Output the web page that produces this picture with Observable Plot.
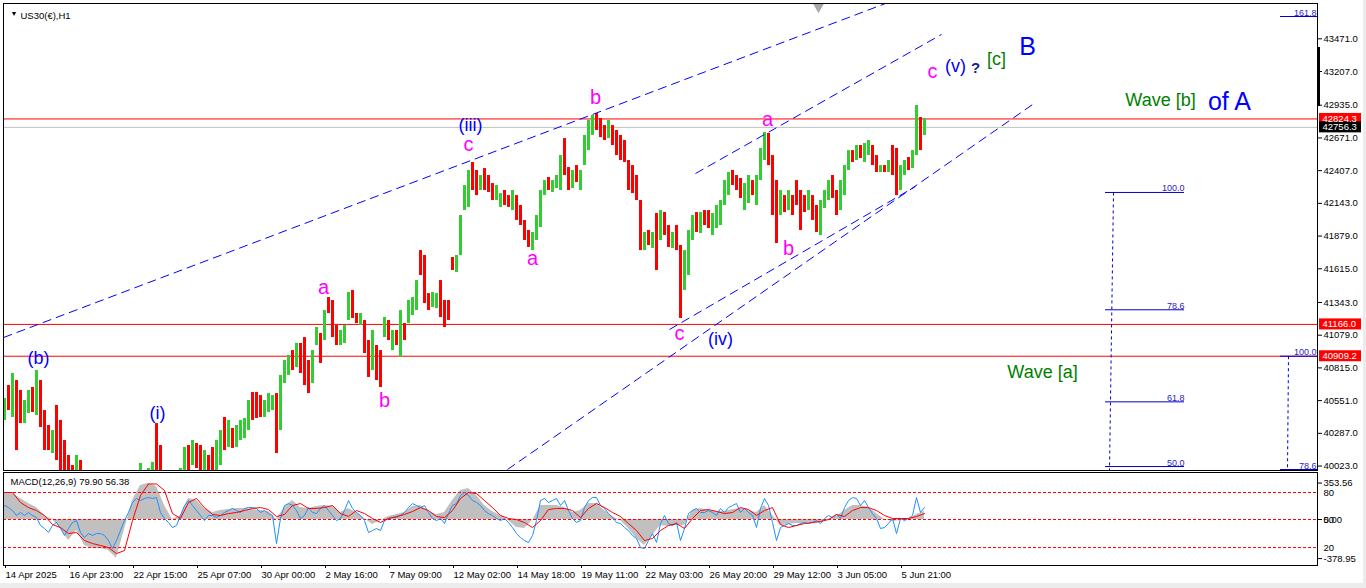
<!DOCTYPE html>
<html><head><meta charset="utf-8">
<script src="https://cdn.jsdelivr.net/npm/d3@7"></script>
<script src="https://cdn.jsdelivr.net/npm/@observablehq/plot@0.6"></script>
<style>
html,body{margin:0;padding:0;background:#ececec;overflow:hidden}
#chart svg{display:block}
</style></head><body><div id="chart"></div>
<script>
// ---------------- DATA ----------------
const symbolTitle = "US30(€),H1";
const macdTitle = "MACD(12,26,9) 79.90 56.38";
// price bars, one every 4 H1 bars (hour index from the left edge)
const barFirstHour = 1, barStepHours = 4;
const barHigh = [
40568,40673,40770,40713,40633,40552,40633,40657,40794,40713,
40471,40350,40310,40512,40391,40229,40108,40027,40108,40068,
39987,39947,39906,39866,39826,39785,39745,39705,39664,39745,
39826,39906,39947,39971,40044,39987,40003,40052,40366,40189,
39987,39947,39923,39947,40003,40173,40189,40229,40205,40189,
40148,40108,40173,40229,40310,40415,40391,40326,40350,40391,
40407,40552,40617,40617,40592,40552,40608,40592,40608,40754,
40875,40915,40955,41012,41012,41060,40875,40955,41141,41093,
41278,41383,41359,41157,41117,41157,41424,41440,41254,41254,
41198,41036,41117,40996,40955,41222,41198,41117,41117,41278,
41173,41359,41383,41520,41762,41722,41415,41424,41415,41520,
41359,41359,41706,41722,42045,42287,42408,42473,42408,42368,
42424,42368,42303,42287,42222,42247,42206,42247,42206,42126,
42005,41924,41908,42045,42247,42327,42352,42327,42368,42529,
42666,42432,42408,42448,42408,42691,42812,42852,42868,42828,
42771,42812,42771,42731,42691,42650,42489,42448,42368,42166,
41908,41924,41908,42061,42085,42069,41964,41908,41964,41803,
41762,41924,42045,42069,42069,42085,42085,42061,42126,42166,
42327,42392,42408,42368,42344,42303,42368,42327,42368,42586,
42715,42707,42529,42327,42247,42206,42247,42206,42327,42247,
42206,42247,42206,42126,42166,42247,42327,42368,42247,42327,
42448,42569,42569,42610,42610,42626,42650,42610,42529,42448,
42448,42489,42610,42586,42448,42489,42513,42569,42933,42836,
42828];
const barLow = [
40391,40471,40415,40148,40366,40366,40447,40455,40431,40334,
40148,40148,40124,40068,39987,39947,39906,39826,39947,39906,
39745,39705,39664,39624,39584,39543,39503,39422,39382,39422,
39543,39624,39705,39745,39826,39785,39810,39826,39906,39866,
39785,39745,39705,39745,39785,39947,39987,40027,40003,39987,
39947,39923,39971,39987,40027,40148,40173,40165,40173,40229,
40245,40310,40391,40407,40415,40415,40455,40471,40124,40310,
40689,40754,40794,40818,40770,40673,40608,40689,40996,40851,
41036,41254,41060,40996,40996,41012,41198,41214,41173,41157,
40931,40738,40794,40713,40657,41060,41036,40955,40996,40899,
41036,41173,41238,41278,41561,41335,41278,41303,41294,41222,
41141,41198,41601,41585,41722,42085,42110,42247,42206,42247,
42247,42231,42166,42166,42110,42126,42110,42085,42005,41964,
41843,41787,41762,41843,41948,42206,42247,42231,42263,42247,
42368,42247,42263,42311,42247,42448,42569,42691,42731,42674,
42650,42666,42610,42529,42489,42473,42247,42222,42166,41762,
41762,41803,41779,41601,41843,41884,41787,41779,41762,41214,
41440,41561,41843,41908,41900,41964,41940,41884,41940,41964,
42126,42206,42287,42247,42182,42085,42142,42206,42126,42327,
42489,42448,42045,41819,42045,42069,42085,42045,42126,41924,
42069,42085,42005,41908,41884,42101,42166,42182,42045,42085,
42206,42408,42473,42489,42505,42473,42529,42448,42392,42392,
42392,42392,42368,42206,42247,42368,42408,42424,42529,42569,
42691];
const barDir =
"ududduudud"+"ddudddddud"+"dduddudddu"+"uuuuuduudd"+"dduuuududd"+
"udduududuu"+"uuddduuudu"+"uududdduud"+"uddduuuddu"+"dduddududu"+
"duuuddduud"+"ddduuuuddu"+"ddduuddudd"+"dduuuuduuu"+"dduduuuudd"+
"dudddddddd"+"udududdudd"+"uuududduuu"+"uuddduuduu"+"udddududdd"+
"dudduuuddu"+"uududuuddu"+"dudduuduud"+"u";

// MACD panel
const macdStepHours = 8;
const macdMain = [
262,252,204,155,116,39,0,-87,-204,-107,
-252,-281,-281,-301,-375,-100,184,330,352,320,
136,0,39,204,184,107,68,87,97,107,
107,97,87,78,0,116,184,116,107,126,
136,126,68,107,68,10,-49,-10,29,49,
68,126,136,78,49,68,184,281,301,233,
136,78,39,-10,-78,-87,-10,136,136,136,
116,68,87,155,155,87,29,-10,-87,-184,
-252,-155,-58,-68,-58,-58,87,107,87,78,
78,97,107,87,68,136,39,-58,-49,-39,
-39,-29,-29,0,29,87,136,136,116,58,
0,-20,-10,0,49,78];
const macdSignal = [
262,262,165,116,87,39,-49,-78,-136,-126,
-204,-233,-252,-272,-330,-301,-10,233,345,345,
281,58,10,165,204,116,49,39,58,68,
87,107,116,97,29,49,136,155,107,107,
116,136,58,29,87,58,10,-29,10,29,
49,78,116,87,29,19,87,204,262,252,
184,116,39,10,0,-29,-78,-10,97,107,
107,87,19,107,155,116,68,29,-39,-107,
-204,-184,-107,-58,-39,-87,10,87,97,78,
58,68,116,97,39,87,116,-49,-78,-58,
-39,-29,-20,0,49,29,87,116,116,87,
39,10,10,10,29,58];
const oscStepHours = 4;
const oscBlue = [
136,116,87,39,68,39,68,39,19,-58,
-87,-126,-58,-29,-87,-155,-87,-29,-10,-126,
-175,-136,-155,-136,-136,-155,-204,-281,-204,-107,
-10,68,165,204,184,204,213,204,213,68,
10,-29,-78,-58,39,136,184,136,87,39,
-10,39,39,19,39,68,87,107,87,68,
107,116,116,107,68,87,58,39,-233,10,
136,155,136,87,10,39,116,68,58,107,
136,87,39,-10,10,87,184,107,68,39,
-10,-126,-107,-87,-107,-10,10,19,19,39,
68,116,155,136,116,136,68,10,-10,10,
-39,58,136,155,233,262,233,184,165,136,
87,58,39,10,-10,10,-29,-78,-136,-175,
-204,-223,-155,-10,184,204,165,184,204,136,
184,87,10,-29,-10,116,184,213,213,136,
107,58,19,-29,-39,-78,-107,-155,-184,-272,
-281,-204,-136,-223,-39,39,-39,-58,-29,-204,
-87,58,87,107,68,68,87,68,39,107,
68,116,136,155,68,107,68,39,-78,107,
204,136,-29,-204,-78,-58,-39,-58,-58,-39,
-29,-39,-29,-10,-39,10,39,19,49,10,
116,184,213,204,136,184,116,58,10,-87,
-78,-39,10,-136,10,-10,10,39,213,68,
116];
const macdLevels = [262, 0, -272];
const macdLevelText = ["80", "50", "20"];
const macdRangeTicks = [353.56, 0, -378.95];
const macdRangeText = ["353.56", "0.00", "-378.95"];

// axes
const timeTickHours = [2,66,130,194,258,322,386,450,514,578,642,706,770,834,898];
const timeTickLabels = ["14 Apr 2025","16 Apr 23:00","22 Apr 15:00","25 Apr 07:00","30 Apr 00:00","2 May 16:00","7 May 09:00","12 May 02:00","14 May 18:00","19 May 11:00","22 May 03:00","26 May 20:00","29 May 12:00","3 Jun 05:00","5 Jun 21:00"];
const priceTicks = [43471,43207,42935,42671,42407,42143,41879,41615,41343,41079,40815,40551,40287,40023];

// horizontal levels and price tags
const redLevels = [42824.3, 41166.0, 40909.2];
const bidPrice = 42756.3;
const tagPrices = [42824.3, 42756.3, 41166.0, 40909.2];
const tagColors = ["#ff0000", "#000000", "#ff0000", "#ff0000"];

// dashed trend lines (hour, price) pairs
const trendHour1 = [0, 692, 666, 504];
const trendPrice1 = [41060, 42384, 41125, 39995];
const trendHour2 = [882, 938, 912, 1032];
const trendPrice2 = [43756, 43506, 42279, 42957];

// Fibonacci tools
const fibLeftText = ["100.0", "78.6", "61.8", "50.0"];
const fibLeftPrice = [42231, 41284, 40541, 40019];
const fibLeftHours = [1102, 1181];
const fibLeftDiag = [[1110, 42231], [1106, 39987]];
const fibRightText = ["161.8", "100.0", "78.6"];
const fibRightPrice = [43651, 40909.2, 39995];
const fibRightHours = [1277, 1314];
const fibRightDiag = [[1285, 40909.2], [1284, 39987]];

// small grey object marker at the top edge
const markerHour = [815];
const markerPrice = [43728];

// wave labels
const abcText = ["a","b","c","a","b","c","a","b","c"];
const abcHour = [320,381,465,529,592,676,764,785,929];
const abcPrice = [41464,40552,42618,41698,42997,41093,42820,41779,43207];
const waveText = ["(b)","(i)","(iii)","(iv)","(v)"];
const waveHour = [35,154,467,717,952];
const wavePrice = [40891,40447,42771,41044,43247];
const bigText = ["B","of A"];
const bigHour = [1024,1226];
const bigPrice = [43401,42965];
const greenText = ["[c]","Wave [b]","Wave [a]"];
const greenHour = [993,1157,1039];
const greenPrice = [43304,42973,40778];
const queryText = ["?"];
const queryHour = [972];
const queryPrice = [43231];

// ---------------- BUILD ----------------
const W = 1363, mL = 3, mR = 46;
const xDomain = [0, 1314];
const yDomain = [39987, 43756];
const mainH = 471, mT = 3, mB = 1;
const pricePerPx = (yDomain[1] - yDomain[0]) / (mainH - mT - mB);
const FONT = "'Liberation Sans', Arial, sans-serif";

const bars = barHigh.map((hi, i) => ({t: barFirstHour + i * barStepHours, hi, lo: barLow[i], up: barDir[i] === "u"}));
const trends = trendHour1.map((h, i) => ({x1: h, y1: trendPrice1[i], x2: trendHour2[i], y2: trendPrice2[i]}));
const fibL = fibLeftText.map((s, i) => ({s, p: fibLeftPrice[i]}));
const fibR = fibRightText.map((s, i) => ({s, p: fibRightPrice[i]}));
const tags = tagPrices.map((p, i) => ({p, c: tagColors[i]}));
const mk = (txt, hrs, prs) => txt.map((s, i) => ({s, t: hrs[i], p: prs[i]}));

const blue = "#0000ff";
const fibColor = "#2a22c8";

const main = Plot.plot({
  width: W, height: mainH, marginLeft: mL, marginRight: mR, marginTop: mT, marginBottom: mB,
  x: {domain: xDomain, axis: null},
  y: {domain: yDomain, axis: null},
  color: {type: "identity"},
  style: {background: "white", fontFamily: FONT, fontSize: "9.5px", color: "black"},
  marks: [
    Plot.ruleY(redLevels, {stroke: "#ff0000", strokeWidth: 1}),
    Plot.ruleY([bidPrice], {stroke: "#c0c0c0", strokeWidth: 1}),
    Plot.ruleX(bars.filter(d => d.up), {x: "t", y1: "lo", y2: "hi", stroke: "#32cd32", strokeWidth: 3, clip: true}),
    Plot.ruleX(bars.filter(d => !d.up), {x: "t", y1: "lo", y2: "hi", stroke: "#ff0000", strokeWidth: 3, clip: true}),
    Plot.link(trends, {x1: "x1", y1: "y1", x2: "x2", y2: "y2", stroke: blue, strokeWidth: 1, strokeDasharray: "9,5", clip: true}),
    // fib left
    Plot.ruleY(fibL, {y: "p", x1: fibLeftHours[0], x2: fibLeftHours[1], stroke: "#0000cc", strokeWidth: 1}),
    Plot.text(fibL, {y: "p", x: fibLeftHours[1], text: "s", textAnchor: "end", lineAnchor: "bottom", dy: -1, fill: fibColor, fontSize: 9}),
    Plot.link([fibLeftDiag], {x1: d => d[0][0], y1: d => d[0][1], x2: d => d[1][0], y2: d => d[1][1], stroke: "#0000cc", strokeDasharray: "3,3", strokeWidth: 1}),
    // fib right
    Plot.ruleY(fibR, {y: "p", x1: fibRightHours[0], x2: fibRightHours[1], stroke: "#0000cc", strokeWidth: 1}),
    Plot.text(fibR, {y: "p", x: fibRightHours[1], text: "s", textAnchor: "end", lineAnchor: "bottom", dy: -1, dx: -1, fill: fibColor, fontSize: 9}),
    Plot.link([fibRightDiag], {x1: d => d[0][0], y1: d => d[0][1], x2: d => d[1][0], y2: d => d[1][1], stroke: "#0000cc", strokeDasharray: "3,3", strokeWidth: 1}),
    // marker
    Plot.dot(markerHour.map((t, i) => ({t, p: markerPrice[i]})), {x: "t", y: "p", symbol: "triangle", rotate: 180, r: 4, fill: "#a8a8a8", stroke: "none"}),
    // wave labels
    Plot.text(mk(abcText, abcHour, abcPrice), {x: "t", y: "p", text: "s", fill: "#ff00ff", fontSize: 20}),
    Plot.text(mk(waveText, waveHour, wavePrice), {x: "t", y: "p", text: "s", fill: blue, fontSize: 18}),
    Plot.text(mk(bigText, bigHour, bigPrice), {x: "t", y: "p", text: "s", fill: blue, fontSize: 25}),
    Plot.text(mk(greenText, greenHour, greenPrice), {x: "t", y: "p", text: "s", fill: "#008000", fontSize: 18}),
    Plot.text(mk(queryText, queryHour, queryPrice), {x: "t", y: "p", text: "s", fill: "#1c1c8c", fontSize: 15, fontWeight: "bold"}),
    Plot.frame({stroke: "black"}),
    Plot.axisY(priceTicks, {anchor: "right", label: null, tickSize: 4, tickPadding: 2, tickFormat: d => d.toFixed(1), fontSize: 9.5, fill: "black", stroke: "black"}),
    // price tags
    Plot.rect(tags, {x1: 1316, x2: 1358, y1: d => d.p - 5.5 * pricePerPx, y2: d => d.p + 5.5 * pricePerPx, fill: "c"}),
    Plot.text(tags, {x: 1319, y: "p", text: d => d.p.toFixed(1), fill: "white", textAnchor: "start", fontSize: 9.5}),
    Plot.ruleX([1315], {y1: 42925, y2: 43401, stroke: "black", strokeWidth: 3}),
    // title
    Plot.text(["▼"], {frameAnchor: "top-left", dx: 7, dy: 10, lineAnchor: "middle", fontSize: 7, fill: "black"}),
    Plot.text([symbolTitle], {frameAnchor: "top-left", dx: 17, dy: 12, lineAnchor: "middle", fontSize: 9.5, fill: "black"})
  ]
});

const macdH = 112, mT2 = 1, mB2 = 18;
const greyData = macdMain.map((v, i) => ({t: barFirstHour + i * macdStepHours, v}));
const sigData = macdSignal.map((v, i) => ({t: barFirstHour + i * macdStepHours, v}));
const blueData = oscBlue.map((v, i) => ({t: barFirstHour + i * oscStepHours, v}));
const labelMap = new Map(timeTickHours.map((h, i) => [h, timeTickLabels[i]]));
const rangeMap = new Map(macdRangeTicks.map((v, i) => [v, macdRangeText[i]]));
const levelMap = new Map(macdLevels.map((v, i) => [v, macdLevelText[i]]));

const macd = Plot.plot({
  width: W, height: macdH, marginLeft: mL, marginRight: mR, marginTop: mT2, marginBottom: mB2,
  x: {domain: xDomain, axis: null},
  y: {domain: [-446, 456], axis: null},
  style: {background: "white", fontFamily: FONT, fontSize: "9.5px", color: "black"},
  marks: [
    Plot.areaY(greyData, {x: "t", y1: 0, y2: "v", fill: "#c0c0c0"}),
    Plot.ruleY(macdLevels, {stroke: "#ff0000", strokeDasharray: "3,2", strokeWidth: 1}),
    Plot.lineY(blueData, {x: "t", y: "v", stroke: "#1e90ff", strokeWidth: 1}),
    Plot.lineY(sigData, {x: "t", y: "v", stroke: "#ff0000", strokeWidth: 1}),
    Plot.frame({stroke: "black"}),
    Plot.axisY(macdRangeTicks, {anchor: "right", label: null, tickSize: 4, tickPadding: 2, tickFormat: d => rangeMap.get(d), fill: "black", stroke: "black"}),
    Plot.axisY(macdLevels, {anchor: "right", label: null, tickSize: 0, tickPadding: 6, tickFormat: d => levelMap.get(d), fill: "black"}),
    Plot.axisX(timeTickHours, {anchor: "bottom", label: null, tickSize: 3, tickPadding: 3, tickFormat: d => labelMap.get(d), textAnchor: "start", fill: "black", stroke: "black"}),
    Plot.text([macdTitle], {frameAnchor: "top-left", dx: 7, dy: 9.5, lineAnchor: "middle", fill: "black", fontSize: 9.5})
  ]
});

const root = document.getElementById("chart");
root.appendChild(main);
root.appendChild(macd);
</script>
</body></html>
